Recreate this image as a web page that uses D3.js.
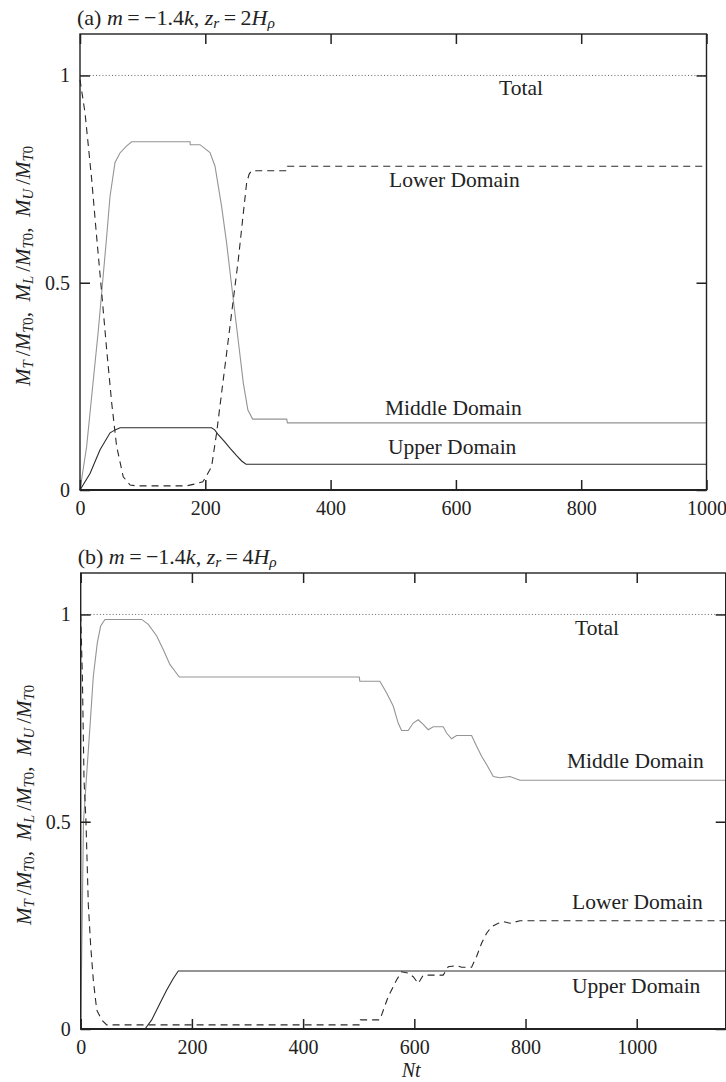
<!DOCTYPE html>
<html>
<head>
<meta charset="utf-8">
<script src="https://cdn.jsdelivr.net/npm/d3@7/dist/d3.min.js"></script>
<style>
  html, body { margin: 0; padding: 0; background: #fff; }
  svg { display: block; }
  text { font-family: "Liberation Serif", "Times New Roman", serif; fill: #222; }
</style>
</head>
<body>
<svg id="fig" width="726" height="1082"></svg>
<script>
// ---- Panel (a): m = -1.4k, z_r = 2H_rho ----
const aTicksX = [0, 200, 400, 600, 800, 1000];
const aTotalNt = [0, 1000];
const aTotalVal = [1, 1];
const aLowerNt  = [0, 8, 18.6, 26.6, 34.6, 42.6, 50.6, 58.5, 69, 80, 90, 170, 185, 196, 201, 210, 218, 226, 234, 244.7, 252.7, 260.7, 266, 270, 274, 330, 331, 1000];
const aLowerVal = [0.99, 0.91, 0.75, 0.61, 0.476, 0.338, 0.21, 0.105, 0.032, 0.012, 0.01, 0.01, 0.015, 0.02, 0.032, 0.056, 0.137, 0.234, 0.33, 0.459, 0.556, 0.668, 0.741, 0.762, 0.77, 0.77, 0.781, 0.781];
const aMiddleNt  = [0, 10.6, 21.3, 29.3, 34.6, 42.6, 47.9, 55.9, 63.8, 74.5, 82.5, 175.6, 176, 191.5, 207.5, 215.5, 226, 234, 244.7, 255, 260.7, 268, 275.6, 330, 331, 1000];
const aMiddleVal = [0, 0.105, 0.266, 0.386, 0.476, 0.612, 0.708, 0.79, 0.813, 0.83, 0.84, 0.84, 0.833, 0.833, 0.814, 0.781, 0.684, 0.596, 0.459, 0.33, 0.258, 0.193, 0.171, 0.171, 0.162, 0.162];
const aUpperNt  = [0, 16, 32, 48, 56, 64, 210, 215, 220, 230, 240, 250, 258, 265, 1000];
const aUpperVal = [0, 0.04, 0.097, 0.138, 0.145, 0.15, 0.15, 0.145, 0.135, 0.118, 0.1, 0.083, 0.07, 0.062, 0.062];

// ---- Panel (b): m = -1.4k, z_r = 4H_rho ----
const bTicksX = [0, 200, 400, 600, 800, 1000];
const bTotalNt = [0, 1160];
const bTotalVal = [1, 1];
const bLowerNt  = [0, 3, 6, 9.5, 13.7, 18, 22.7, 28.8, 37.8, 46.8, 502, 503, 538, 553, 568, 577, 589, 598, 607, 616, 652, 661, 676, 685, 703, 712, 721, 730, 739, 751, 760, 772, 790, 1160];
const bLowerVal = [1, 0.85, 0.6, 0.5, 0.3, 0.2, 0.118, 0.046, 0.022, 0.01, 0.01, 0.022, 0.022, 0.078, 0.118, 0.138, 0.135, 0.126, 0.11, 0.13, 0.13, 0.15, 0.153, 0.149, 0.149, 0.175, 0.207, 0.231, 0.247, 0.255, 0.259, 0.255, 0.261, 0.261];
const bMiddleNt  = [0, 3, 5, 9.5, 16.7, 22.7, 29.9, 35.9, 43.7, 109.7, 121.6, 136.7, 148.6, 160.6, 169.6, 177.4, 501, 502, 538, 550, 562, 571, 577, 589, 598, 607, 616, 625, 634, 652, 658, 667, 676, 703, 712, 721, 730, 742, 754, 772, 790, 1160];
const bMiddleVal = [0, 0.3, 0.5, 0.59, 0.73, 0.851, 0.932, 0.972, 0.988, 0.988, 0.976, 0.948, 0.915, 0.879, 0.863, 0.849, 0.849, 0.839, 0.839, 0.811, 0.779, 0.738, 0.72, 0.72, 0.738, 0.746, 0.735, 0.722, 0.729, 0.729, 0.714, 0.70, 0.708, 0.708, 0.682, 0.658, 0.638, 0.609, 0.606, 0.609, 0.60, 0.60];
const bUpperNt  = [0, 115.6, 127.7, 142.6, 154.7, 166.5, 175.5, 1160];
const bUpperVal = [0, 0, 0.022, 0.062, 0.094, 0.122, 0.14, 0.14];

const yTicks = [0, 0.5, 1];
const yTickLabels = ["0", "0.5", "1"];

const svg = d3.select("#fig");

function zip(xs, ys) { return xs.map((x, i) => ({ x, y: ys[i] })); }

// Rich text helper: segments of [text, italic?, subscript?]
function richText(sel, segs, size) {
  segs.forEach(([t, it, sub]) => {
    const ts = sel.append("tspan").text(t);
    if (it) ts.attr("font-style", "italic");
    if (sub) ts.attr("font-size", size * 0.7).attr("baseline-shift", "-22%");
  });
}

function yLabelSegs() {
  const s = [];
  ["T", "L", "U"].forEach((p, i) => {
    s.push(["M", true, false]);
    s.push([p, true, true]);
    s.push(["\u2009/", false, false]);
    s.push(["M", true, false]);
    s.push(["T", true, true]);
    s.push(["0", false, true]);
    if (i < 2) s.push([",\u2002", false, false]);
  });
  return s;
}

function drawPanel(cfg) {
  const { left, right, top, bottom, xMax } = cfg;
  const x = d3.scaleLinear().domain([0, xMax]).range([left, right]);
  const y = d3.scaleLinear().domain([0, 1.1]).range([bottom, top]);
  const g = svg.append("g");

  const line = d3.line().x(d => x(d.x)).y(d => y(d.y));

  // curves
  g.append("path").datum(zip(cfg.totalNt, cfg.totalVal)).attr("d", line)
    .attr("fill", "none").attr("stroke", "#555").attr("stroke-width", 0.9)
    .attr("stroke-dasharray", "1,2.2");
  g.append("path").datum(zip(cfg.middleNt, cfg.middleVal)).attr("d", line)
    .attr("fill", "none").attr("stroke", "#949494").attr("stroke-width", 1.1);
  g.append("path").datum(zip(cfg.upperNt, cfg.upperVal)).attr("d", line)
    .attr("fill", "none").attr("stroke", "#2a2a2a").attr("stroke-width", 1.1);
  g.append("path").datum(zip(cfg.lowerNt, cfg.lowerVal)).attr("d", line)
    .attr("fill", "none").attr("stroke", "#2a2a2a").attr("stroke-width", 1.1)
    .attr("stroke-dasharray", "7,5");

  // axes with inward ticks
  const axStyle = a => {
    a.select(".domain").remove();
    a.selectAll(".tick line").attr("stroke", "#222").attr("stroke-width", 1.5);
    a.selectAll(".tick text").attr("font-family", "Liberation Serif").attr("font-size", 20).attr("fill", "#222");
  };
  g.append("g").attr("transform", `translate(0,${bottom})`)
    .call(d3.axisBottom(x).tickValues(cfg.ticksX).tickSize(-10).tickPadding(11).tickFormat(d3.format("d")))
    .call(axStyle);
  g.append("g").attr("transform", `translate(0,${top})`)
    .call(d3.axisTop(x).tickValues(cfg.ticksX).tickSize(-10).tickFormat(""))
    .call(axStyle);
  g.append("g").attr("transform", `translate(${left},0)`)
    .call(d3.axisLeft(y).tickValues(yTicks).tickSize(-10).tickPadding(10).tickFormat((d, i) => yTickLabels[i]))
    .call(axStyle);
  g.append("g").attr("transform", `translate(${right},0)`)
    .call(d3.axisRight(y).tickValues(yTicks).tickSize(-10).tickFormat(""))
    .call(axStyle);

  // frame
  g.append("rect").attr("x", left).attr("y", top).attr("width", right - left).attr("height", bottom - top)
    .attr("fill", "none").attr("stroke", "#222").attr("stroke-width", 1.4);
  g.append("line").attr("x1", left).attr("x2", right).attr("y1", bottom).attr("y2", bottom)
    .attr("stroke", "#222").attr("stroke-width", 2);

  // panel title
  const t = g.append("text").attr("x", left - 3).attr("y", top - 9).attr("font-size", 22);
  richText(t, cfg.title, 22);

  // y-axis title
  const yl = g.append("text")
    .attr("transform", `translate(${left - 50},${(top + bottom) / 2 + 4}) rotate(-90)`)
    .attr("text-anchor", "middle").attr("font-size", 21);
  richText(yl, yLabelSegs(), 21);

  // curve annotations
  cfg.labels.forEach(l => {
    g.append("text").attr("x", l.x).attr("y", l.y).attr("font-size", 21.5)
      .attr("text-anchor", l.anchor || "start").text(l.text);
  });

  if (cfg.xTitle) {
    const xt = g.append("text").attr("x", (left + right) / 2 + 8).attr("y", bottom + 48)
      .attr("text-anchor", "middle").attr("font-size", 20);
    richText(xt, [["Nt", true, false]], 20);
  }
}

drawPanel({
  left: 80, right: 706.5, top: 34, bottom: 490, xMax: 1000, ticksX: aTicksX,
  totalNt: aTotalNt, totalVal: aTotalVal,
  lowerNt: aLowerNt, lowerVal: aLowerVal,
  middleNt: aMiddleNt, middleVal: aMiddleVal,
  upperNt: aUpperNt, upperVal: aUpperVal,
  title: [["(a) ", false], ["m", true], ["\u2009=\u2009\u22121.4", false], ["k", true], [", ", false], ["z", true], ["r", true, true], ["\u2009=\u20092", false], ["H", true], ["\u03C1", true, true]],
  labels: [
    { x: 521, y: 95, text: "Total", anchor: "middle" },
    { x: 389, y: 187, text: "Lower Domain" },
    { x: 385, y: 415, text: "Middle Domain" },
    { x: 388, y: 454, text: "Upper Domain" }
  ]
});

drawPanel({
  left: 80.7, right: 725.7, top: 573, bottom: 1029, xMax: 1160, ticksX: bTicksX,
  totalNt: bTotalNt, totalVal: bTotalVal,
  lowerNt: bLowerNt, lowerVal: bLowerVal,
  middleNt: bMiddleNt, middleVal: bMiddleVal,
  upperNt: bUpperNt, upperVal: bUpperVal,
  title: [["(b) ", false], ["m", true], ["\u2009=\u2009\u22121.4", false], ["k", true], [", ", false], ["z", true], ["r", true, true], ["\u2009=\u20094", false], ["H", true], ["\u03C1", true, true]],
  labels: [
    { x: 597, y: 635, text: "Total", anchor: "middle" },
    { x: 567, y: 768, text: "Middle Domain" },
    { x: 572, y: 909, text: "Lower Domain" },
    { x: 572, y: 993, text: "Upper Domain" }
  ],
  xTitle: true
});
</script>
</body>
</html>
